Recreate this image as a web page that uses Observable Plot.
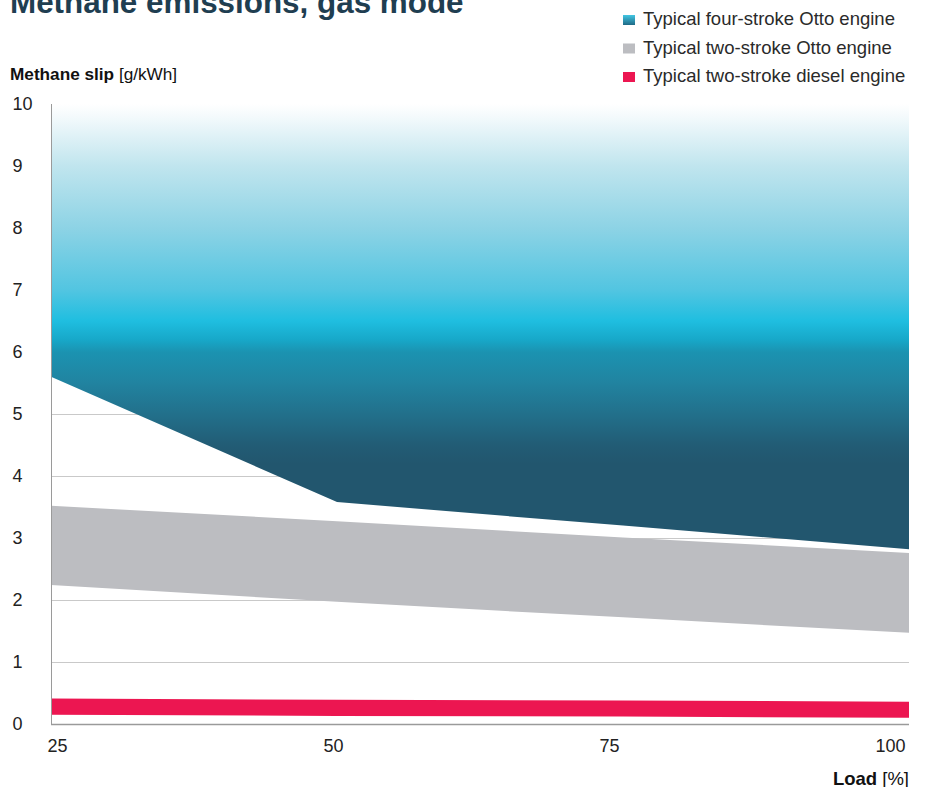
<!DOCTYPE html>
<html>
<head>
<meta charset="utf-8">
<script src="https://cdn.jsdelivr.net/npm/d3@7"></script>
<script src="https://cdn.jsdelivr.net/npm/@observablehq/plot@0.6"></script>
<style>
  html, body { margin: 0; padding: 0; background: #fff; }
  #chart { position: relative; width: 926px; height: 787px; overflow: hidden; }
  #chart svg { position: absolute; left: 0; top: 0; }
</style>
</head>
<body>
<div id="chart"></div>
<script>
// Engine load points [%]
const loads = [25, 50, 75, 100];

// Methane slip ranges [g/kWh] per engine type (lower / upper bound of each band)
const fourStrokeOttoLow  = [5.6, 3.58, 3.2, 2.82];
const fourStrokeOttoHigh = [10, 10, 10, 10];
const twoStrokeOttoLow   = [2.24, 1.97, 1.72, 1.47];
const twoStrokeOttoHigh  = [3.52, 3.27, 3.01, 2.76];
const twoStrokeDieselLow  = [0.15, 0.13, 0.12, 0.10];
const twoStrokeDieselHigh = [0.41, 0.39, 0.38, 0.36];

// Axis ticks
const yTicks = [0, 1, 2, 3, 4, 5, 6, 7, 8, 9, 10];
const gridValues = [1, 2, 3, 4, 5, 6, 7, 8, 9];
const xTicks = [25, 50, 75, 100];

// Legend entries
const seriesNames = [
  "Typical four-stroke Otto engine",
  "Typical two-stroke Otto engine",
  "Typical two-stroke diesel engine"
];
const seriesColors = ["url(#legendGradient)", "#bcbdc1", "#ec1651"];

const band = (low, high) => loads.map((x, i) => ({x, low: low[i], high: high[i]}));
const fourStroke = band(fourStrokeOttoLow, fourStrokeOttoHigh);
const twoStrokeOtto = band(twoStrokeOttoLow, twoStrokeOttoHigh);
const twoStrokeDiesel = band(twoStrokeDieselLow, twoStrokeDieselHigh);

const font = "'Liberation Sans', Arial, Helvetica, sans-serif";

const chart = Plot.plot({
  width: 926,
  height: 787,
  marginLeft: 51,
  marginRight: 17,
  marginTop: 104,
  marginBottom: 63,
  style: {fontFamily: font, color: "#222", background: "#fff"},
  x: {domain: [25, 100], axis: null},
  y: {domain: [0, 10], axis: null},
  marks: [
    Plot.ruleY(gridValues, {stroke: "#c9c9c9", strokeWidth: 1}),
    Plot.areaY(fourStroke, {x: "x", y1: "low", y2: "high", fill: "url(#methaneGradient)"}),
    Plot.areaY(twoStrokeOtto, {x: "x", y1: "low", y2: "high", fill: "#bcbdc1"}),
    Plot.areaY(twoStrokeDiesel, {x: "x", y1: "low", y2: "high", fill: "#ec1651"}),
    Plot.ruleX([25], {y1: 0, y2: 10, stroke: "#9a9a9a", strokeWidth: 1}),
    Plot.ruleY([0], {stroke: "#9a9a9a", strokeWidth: 1.5}),
    Plot.text(yTicks, {y: d => d, frameAnchor: "left", textAnchor: "start", dx: -39, fontSize: 18, fill: "#222"}),
    Plot.text(xTicks.slice(0, 1), {x: d => d, frameAnchor: "bottom", dy: 27, textAnchor: "start", dx: -4, fontSize: 18, fill: "#222"}),
    Plot.text(xTicks.slice(1, 2), {x: d => d, frameAnchor: "bottom", dy: 27, textAnchor: "middle", dx: -4, fontSize: 18, fill: "#222"}),
    Plot.text(xTicks.slice(2, 3), {x: d => d, frameAnchor: "bottom", dy: 27, textAnchor: "middle", dx: -14, fontSize: 18, fill: "#222"}),
    Plot.text(xTicks.slice(3), {x: d => d, frameAnchor: "bottom", dy: 27, textAnchor: "end", dx: -4, fontSize: 18, fill: "#222"})
  ]
});

document.getElementById("chart").appendChild(chart);

const svg = d3.select(chart);
const y = chart.scale("y");
const defs = svg.insert("defs", ":first-child");

// Vertical colour ramp of the four-stroke band, tied to the y scale
const rampStops = [
  [10, "#ffffff"], [9.8, "#f4fafc"], [9, "#c0e5ee"], [8, "#8dd3e5"],
  [7, "#52c5e1"], [6.5, "#1fbee0"], [6.2, "#17a8c9"], [6, "#1b93b1"],
  [5.5, "#2183a0"], [5, "#22708b"], [4.5, "#225c75"], [4.2, "#22566e"], [0, "#22566e"]
];
const grad = defs.append("linearGradient")
  .attr("id", "methaneGradient")
  .attr("gradientUnits", "userSpaceOnUse")
  .attr("x1", 0).attr("x2", 0)
  .attr("y1", y.apply(10)).attr("y2", y.apply(0));
rampStops.forEach(([v, c]) => grad.append("stop").attr("offset", (10 - v) / 10).attr("stop-color", c));

const lg = defs.append("linearGradient").attr("id", "legendGradient").attr("x1", 0).attr("x2", 0).attr("y1", 0).attr("y2", 1);
lg.append("stop").attr("offset", 0).attr("stop-color", "#42c6e3");
lg.append("stop").attr("offset", 1).attr("stop-color", "#1f6a86");

// Title, axis titles and legend
const ann = svg.append("g").attr("font-family", font).attr("text-anchor", "start");

ann.append("text")
  .attr("x", 10).attr("y", 12.5)
  .attr("font-size", 31.4).attr("font-weight", "bold").attr("fill", "#1f3e51")
  .text("Methane emissions, gas mode");

const yTitle = ann.append("text").attr("x", 10).attr("y", 80).attr("font-size", 17.2).attr("fill", "#111");
yTitle.append("tspan").attr("font-weight", "bold").text("Methane slip");
yTitle.append("tspan").text(" [g/kWh]");

const xTitle = ann.append("text").attr("x", 909).attr("y", 784.5).attr("text-anchor", "end").attr("font-size", 18.5).attr("fill", "#111");
xTitle.append("tspan").attr("font-weight", "bold").text("Load");
xTitle.append("tspan").text(" [%]");

const legend = ann.append("g");
seriesNames.forEach((name, i) => {
  const base = 25 + i * 28.5;
  legend.append("rect").attr("x", 623).attr("y", base - 10).attr("width", 12).attr("height", 10).attr("fill", seriesColors[i]);
  legend.append("text").attr("x", 643).attr("y", base).attr("font-size", 18.5).attr("fill", "#2a2a2a").text(name);
});
</script>
</body>
</html>
